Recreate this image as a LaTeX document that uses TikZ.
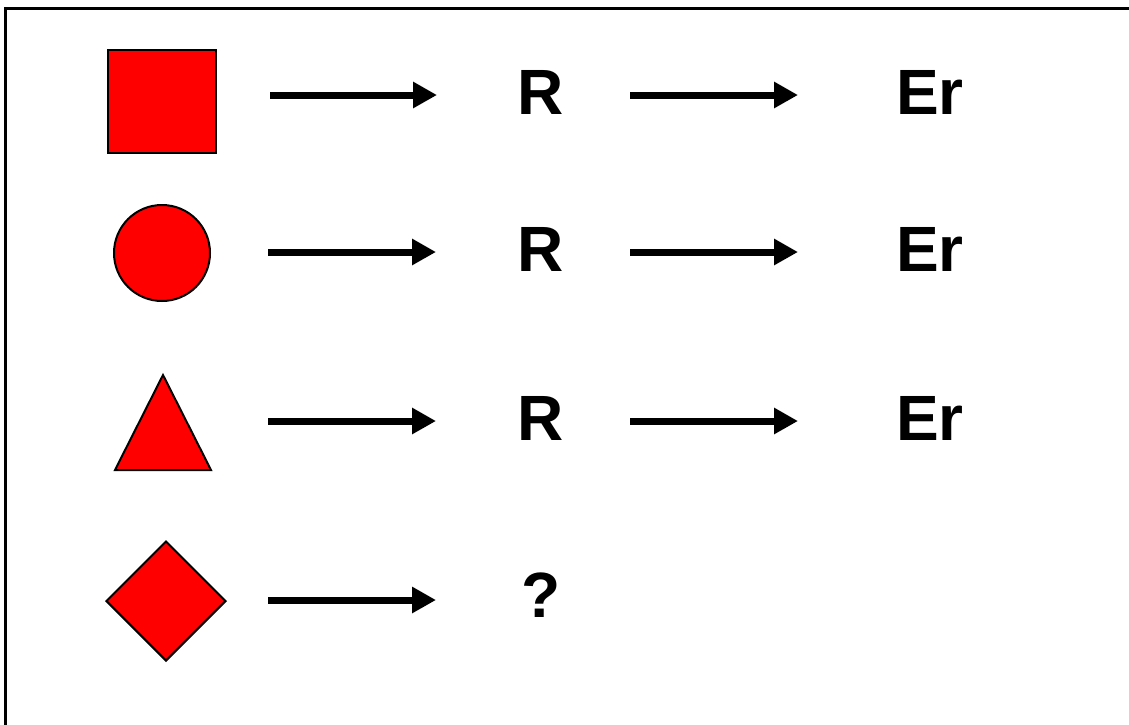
\documentclass[tikz,border=0pt]{standalone}
\usepackage{fontspec}
\setmainfont{Liberation Sans}
\usetikzlibrary{arrows.meta,shapes.geometric}
\begin{document}
\begin{tikzpicture}[x=1pt,y=-1pt,
  redshape/.style={draw=black,fill=red,line width=2pt,inner sep=0pt},
  bigarrow/.style={line width=7pt,-{Triangle[length=24pt,width=25pt]}},
  lbl/.style={font=\bfseries\fontsize{64}{64}\selectfont,inner sep=0pt}]
\useasboundingbox (0,0) rectangle (1129,724);
\clip (0,0) rectangle (1129,724);
\draw[line width=2.5pt] (5.5,8.5) rectangle (1160,760);
% shapes
\node[redshape,rectangle,minimum width=108pt,minimum height=103pt] (sq) at (162,101.5) {};
\node[redshape,circle,minimum size=96pt] (ci) at (162,253) {};
\draw[redshape] (163,375) coordinate (tri) -- (211,470) -- (115,470) -- cycle;
\node[redshape,diamond,minimum width=120pt,minimum height=120pt] (di) at (166,601) {};
% texts
\node[lbl,anchor=base] (r1) at (541,114) {R};
\node[lbl,anchor=base] (r2) at (541,271) {R};
\node[lbl,anchor=base] (r3) at (541,440) {R};
\node[lbl,anchor=base] (q4) at (541,617) {?};
\node[lbl,anchor=base west] (e1) at (896,114) {Er};
\node[lbl,anchor=base west] (e2) at (896,271) {Er};
\node[lbl,anchor=base west] (e3) at (896,440) {Er};
% arrow endpoints
\coordinate (a1s) at (270,95);  \coordinate (a1e) at (437,95);
\coordinate (b1s) at (630,95);  \coordinate (b1e) at (798,95);
\coordinate (a2s) at (268,252); \coordinate (a2e) at (436,252);
\coordinate (b2s) at (630,252); \coordinate (b2e) at (798,252);
\coordinate (a3s) at (268,421); \coordinate (a3e) at (436,421);
\coordinate (b3s) at (630,421); \coordinate (b3e) at (798,421);
\coordinate (a4s) at (268,600); \coordinate (a4e) at (436,600);
\draw[bigarrow] (a1s) -- (a1e);
\draw[bigarrow] (b1s) -- (b1e);
\draw[bigarrow] (a2s) -- (a2e);
\draw[bigarrow] (b2s) -- (b2e);
\draw[bigarrow] (a3s) -- (a3e);
\draw[bigarrow] (b3s) -- (b3e);
\draw[bigarrow] (a4s) -- (a4e);
\end{tikzpicture}
\end{document}
